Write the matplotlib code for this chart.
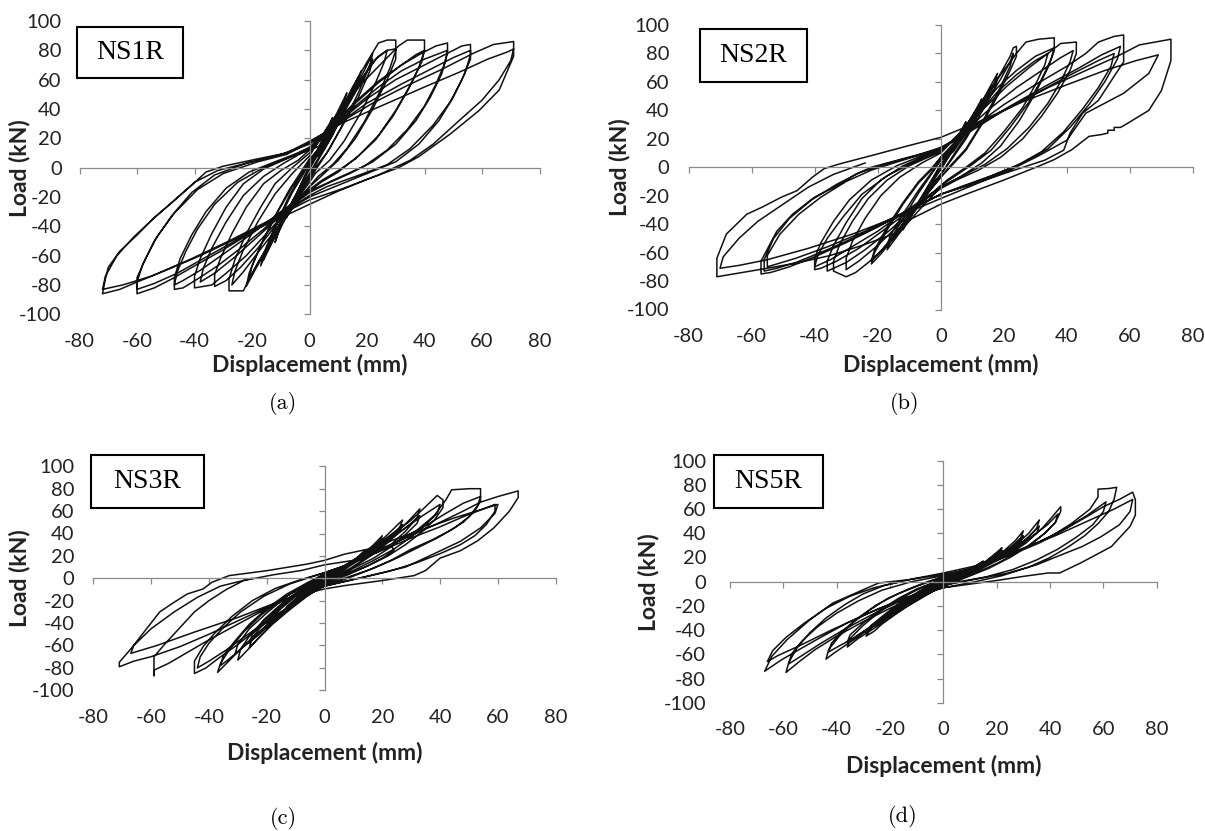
import matplotlib
matplotlib.use("Agg")
import matplotlib.pyplot as plt
from matplotlib.patches import Rectangle

plt.rcParams['font.family'] = ['Lato', 'DejaVu Sans']
plt.rcParams['axes.unicode_minus'] = False

# ---------------- data ----------------
x_ticks = [-80, -60, -40, -20, 0, 20, 40, 60, 80]
y_ticks = [-100, -80, -60, -40, -20, 0, 20, 40, 60, 80, 100]
x_label = "Displacement (mm)"
y_label = "Load (kN)"
specimens = ["NS1R", "NS2R", "NS3R", "NS5R"]
captions = ["(a)", "(b)", "(c)", "(d)"]

# traced load path (displacement mm, load kN), cycle by cycle
ns1r_path = [
    (0,0),(3,13),(6,26),(8,34),(7,29),(4,16),(1,3),(-2,-7),(-5,-20),(-8,-34),(-7,-29),(-4,-16),(-1,-3),(0,2),
    (3,12),(7,27),(10,39),(13,51),(12,45),(8,29),(4,13),(0,-1),(-3,-12),(-7,-27),(-10,-40),(-12,-51),(-11,-45),(-7,-29),(-3,-12),(0,1),
    (3,9),(7,22),(11,38),(15,53),(18,66),(17,60),(13,42),(8,22),(3,5),(0,-5),(-4,-17),(-8,-32),(-12,-47),(-15,-58),(-17,-67),(-16,-59),(-12,-40),(-7,-19),(-3,-5),(0,4),
    (3,8),(7,21),(11,36),(14,50),(17,62),(16,55),(12,38),(7,19),(2,3),(0,-4),(-4,-16),(-8,-30),(-11,-43),(-14,-55),(-16,-63),(-15,-55),(-11,-37),(-6,-17),(-2,-4),(0,4),
    (5,17),(10,33),(15,51),(19,66),(22,78),(21,70),(17,51),(12,31),(7,13),(3,1),(0,-8),(-5,-22),(-10,-39),(-15,-56),(-19,-70),(-22,-81),(-21,-72),(-17,-53),(-12,-33),(-7,-15),(-3,-3),(0,6),
    (5,16),(10,31),(15,48),(19,62),(22,74),(21,66),(17,48),(11,27),(6,10),(2,0),(0,-7),(-5,-21),(-10,-37),(-14,-52),(-18,-65),(-21,-76),(-20,-67),(-16,-49),(-11,-30),(-6,-13),(-2,-2),(0,5),
    (5,18),(10,36),(15,55),(20,72),(24,85),(27,87),(30,87),(30,80),(28,68),(24,50),(19,31),(13,13),(8,2),(3,-6),(0,-13),(-6,-28),(-12,-45),(-17,-62),(-21,-76),(-23,-84),(-28,-84),(-28,-76),(-26,-63),(-22,-45),(-17,-27),(-12,-11),(-6,0),(0,10),
    (6,24),(12,42),(18,60),(23,74),(27,80),(30,81),(30,74),(27,60),(22,40),(16,20),(10,5),(4,-6),(0,-13),(-6,-26),(-12,-40),(-18,-55),(-24,-68),(-29,-77),(-33,-81),(-33,-73),(-31,-62),(-27,-45),(-22,-27),(-16,-11),(-10,-2),(-4,5),(0,12),
    (5,16),(10,33),(15,51),(20,66),(24,76),(27,80),(26,72),(23,58),(18,38),(12,18),(7,5),(2,-4),(0,-10),(-6,-26),(-12,-43),(-18,-58),(-23,-71),(-27,-80),(-26,-71),(-23,-56),(-18,-37),(-12,-18),(-6,-4),(0,8),
    (6,27),(12,43),(18,57),(25,71),(31,83),(34,87),(40,87),(40,80),(38,68),(34,52),(29,35),(23,19),(16,6),(10,-2),(4,-9),(0,-15),(-8,-30),(-15,-45),(-22,-60),(-29,-72),(-34,-80),(-40,-82),(-40,-74),(-38,-62),(-34,-45),(-29,-27),(-23,-11),(-16,-1),(-8,6),(0,14),
    (8,28),(16,44),(24,58),(32,70),(37,77),(40,80),(39,72),(35,56),(30,39),(24,22),(17,8),(10,-3),(4,-10),(0,-16),(-9,-31),(-18,-47),(-26,-61),(-33,-72),(-38,-78),(-37,-69),(-34,-55),(-29,-37),(-23,-19),(-16,-6),(-9,3),(0,13),
    (8,29),(16,45),(24,59),(32,70),(39,78),(44,83),(48,85),(48,78),(46,64),(42,48),(37,32),(30,16),(22,4),(14,-4),(6,-11),(0,-17),(-8,-28),(-16,-42),(-24,-55),(-32,-67),(-39,-76),(-44,-82),(-47,-83),(-47,-75),(-45,-62),(-41,-46),(-36,-30),(-29,-14),(-21,-3),(-12,4),(0,13),
    (8,27),(16,42),(24,55),(32,66),(40,74),(48,80),(47,71),(44,57),(40,42),(34,26),(27,12),(19,1),(10,-7),(0,-16),(-10,-30),(-20,-45),(-30,-59),(-38,-70),(-44,-77),(-47,-80),(-46,-71),(-43,-57),(-39,-42),(-33,-25),(-25,-10),(-16,0),(-7,7),(0,12),
    (10,31),(20,47),(30,60),(40,70),(48,78),(53,83),(56,84),(56,77),(54,64),(50,48),(45,32),(38,16),(30,4),(20,-4),(10,-12),(0,-20),(-10,-32),(-20,-44),(-30,-56),(-40,-67),(-48,-76),(-54,-82),(-60,-86),(-60,-78),(-58,-66),(-54,-50),(-48,-33),(-41,-17),(-33,-5),(-22,3),(-10,9),(0,16),
    (10,30),(20,44),(32,57),(42,67),(50,75),(56,80),(56,74),(53,60),(49,45),(43,29),(35,13),(27,2),(16,-6),(6,-13),(0,-19),(-12,-34),(-24,-48),(-36,-61),(-46,-72),(-54,-79),(-60,-83),(-60,-75),(-57,-62),(-53,-47),(-47,-31),(-39,-15),(-30,-4),(-18,4),(-8,9),(0,17),
    (10,30),(22,44),(34,56),(46,67),(57,78),(64,84),(71,86),(71,76),(66,53),(59,39),(49,23),(38,7.5),(31,0),(20,-8),(10,-16),(0,-25),(-12,-36),(-25,-48),(-38,-60),(-50,-70),(-60,-78),(-66,-83),(-72,-86),(-71,-76),(-70,-68),(-66,-57),(-60,-46),(-54,-34),(-48,-24),(-41,-12),(-36,-3),(-30,1),(-18,6),(-8,10),(0,18),
    (12,31),(26,43),(40,55),(52,65),(62,74),(69,79),(71,81),(70,73),(66,60),(60,46),(52,32),(43,16),(35,5),(24,-5),(12,-14),(0,-22),(-14,-36),(-28,-50),(-42,-63),(-55,-74),(-65,-80),(-72,-83),(-71,-74),(-67,-60),(-61,-47),(-55,-36),(-48,-24),(-40,-10),(-32,-2),(-20,4),
]

ns2r_path = [
    (0,0),(3,12),(6,24),(8,32),(7,27),(4,14),(1,2),(-2,-8),(-5,-19),(-8,-30),(-7,-25),(-4,-13),(-1,-2),(0,2),
    (3,11),(7,25),(10,36),(13,48),(12,42),(8,27),(4,12),(0,-1),(-3,-11),(-7,-25),(-10,-36),(-12,-44),(-11,-38),(-7,-24),(-3,-10),(0,2),
    (4,12),(8,26),(12,41),(15,54),(18,66),(17,59),(13,42),(8,22),(3,5),(0,-5),(-4,-16),(-8,-30),(-12,-43),(-15,-52),(-17,-58),(-16,-51),(-12,-36),(-7,-18),(-3,-5),(0,5),
    (4,11),(8,24),(12,38),(15,50),(18,62),(17,55),(13,39),(8,20),(3,4),(0,-5),(-4,-15),(-8,-28),(-12,-40),(-15,-49),(-17,-55),(-16,-48),(-12,-33),(-7,-16),(-3,-4),(0,5),
    (5,17),(10,33),(15,51),(19,66),(22,78),(23,84),(24,85),(24,78),(22,68),(18,50),(13,30),(8,12),(3,0),(0,-7),(-5,-21),(-10,-36),(-15,-50),(-19,-61),(-22,-68),(-21,-60),(-17,-44),(-12,-26),(-7,-11),(-3,-2),(0,7),
    (5,16),(10,31),(15,48),(19,62),(22,74),(23,80),(22,71),(18,52),(13,31),(8,13),(3,1),(0,-7),(-5,-20),(-10,-34),(-15,-48),(-19,-59),(-22,-66),(-21,-58),(-17,-42),(-12,-25),(-7,-10),(-3,-1),(0,7),
    (5,19),(10,36),(15,53),(20,68),(24,80),(27,88),(31,90),(36,91),(36,82),(34,70),(30,52),(25,33),(19,15),(13,3),(6,-7),(0,-14),(-6,-28),(-12,-43),(-18,-57),(-23,-67),(-27,-74),(-30,-77),(-34,-73),(-34,-66),(-32,-54),(-28,-38),(-23,-22),(-17,-9),(-10,1),(-4,7),(0,11),
    (6,24),(12,40),(18,56),(24,68),(30,78),(36,84),(35,76),(32,62),(28,46),(22,28),(16,12),(10,2),(4,-7),(0,-13),(-8,-28),(-16,-44),(-24,-58),(-30,-67),(-36,-73),(-36,-66),(-34,-55),(-30,-39),(-25,-22),(-19,-9),(-12,1),(-5,8),(0,12),
    (6,22),(12,38),(18,53),(24,65),(30,75),(34,80),(33,72),(30,58),(26,42),(20,25),(14,10),(8,0),(2,-9),(0,-13),(-7,-27),(-14,-42),(-20,-55),(-26,-66),(-30,-72),(-30,-64),(-28,-52),(-24,-36),(-19,-20),(-13,-7),(-6,3),(0,10),
    (7,26),(14,42),(21,57),(28,70),(34,80),(38,87),(43,88),(43,80),(41,68),(37,52),(32,36),(26,20),(19,7),(12,-2),(5,-9),(0,-15),(-9,-29),(-18,-44),(-26,-57),(-33,-66),(-38,-71),(-40,-72),(-40,-64),(-38,-53),(-34,-38),(-29,-23),(-22,-9),(-14,1),(-6,8),(0,12),
    (8,26),(16,42),(24,56),(32,68),(38,77),(42,82),(41,74),(38,60),(34,45),(28,28),(21,13),(14,2),(6,-7),(0,-14),(-10,-29),(-20,-45),(-29,-57),(-35,-65),(-40,-70),(-39,-62),(-36,-50),(-31,-35),(-25,-19),(-17,-6),(-9,3),(0,12),
    (10,28),(20,44),(30,58),(40,71),(46,80),(50,88),(55,92),(58,93),(58,74),(55,64),(50,47),(45,38),(41,24),(39,12),(33,5),(22,-3),(10,-12),(0,-19),(-10,-30),(-20,-42),(-30,-53),(-40,-63),(-48,-70),(-54,-74),(-57,-75),(-57,-66),(-52,-45),(-47,-33),(-40,-21),(-32,-12),(-27,-5),(-22,0),(-12,6),(0,13),
    (10,27),(22,43),(34,58),(44,70),(51,79),(57,85),(56,76),(52,60),(47,44),(41,28),(34,13),(26,3),(16,-6),(6,-14),(0,-19),(-12,-33),(-24,-46),(-36,-58),(-46,-67),(-52,-71),(-56,-73),(-56,-65),(-53,-50),(-48,-36),(-41,-23),(-33,-12),(-26,-4),(-18,2),(-8,8),(0,14),
    (10,26),(20,40),(32,54),(42,66),(50,75),(55,80),(54,71),(50,56),(45,41),(39,25),(32,11),(24,1),(14,-8),(4,-16),(0,-19),(-12,-32),(-24,-45),(-36,-56),(-46,-64),(-52,-68),(-55,-70),(-55,-62),(-51,-47),(-45,-33),(-38,-21),(-30,-10),(-22,-2),(-12,5),(0,13),
    (10,28),(22,42),(34,56),(46,68),(56,78),(63,86),(73,90),(73,75),(70,54),(66,40),(58.6,30),(57,28),(55,28),(55,26),(53,26),(53,24),(51,23),(47,21.7),(41.6,12.4),(36,5.4),(31,0.7),(20,-9),(8,-19),(0,-26),(-10,-37),(-15,-47),(-25,-55),(-35,-62),(-45,-67),(-55,-71),(-63,-74),(-71,-77),(-71,-64),(-68,-47),(-61.5,-33),(-56.6,-28),(-50.5,-21),(-45.6,-16.5),(-40.7,-7),(-37,-1),(-32,2.4),(-22,8.2),(-10,15.3),(0,21),
    (12,32),(26,46),(40,58),(52,68),(62,75),(69,79),(66,66),(58,52),(46,38),(40,19),(31,8),(22,-2),(12,-11),(0,-22),(-14,-35),(-28,-47),(-42,-57),(-55,-65),(-64,-69),(-70,-71),(-69,-63),(-64,-50),(-58,-38),(-50,-26),(-42,-14),(-34,-5),(-24,3),
]

ns3r_path = [
    (0,0),(3,4),(6,9),(8,12),(7,10),(4,5),(1,0),(-2,-4),(-5,-9),(-8,-14),(-7,-11),(-4,-6),(-1,-1),(0,1),
    (3,5),(7,11),(11,18),(14,25),(13,21),(9,13),(4,5),(0,-2),(-4,-8),(-8,-16),(-11,-23),(-14,-30),(-13,-25),(-9,-16),(-4,-7),(0,1),
    (4,6),(9,14),(14,23),(17,30),(20,38),(19,33),(15,24),(10,14),(4,4),(0,-3),(-5,-11),(-10,-21),(-14,-31),(-17,-38),(-20,-45),(-19,-38),(-15,-27),(-9,-14),(-4,-5),(0,2),
    (4,6),(9,13),(14,21),(17,28),(20,35),(19,30),(15,22),(10,13),(4,3),(0,-3),(-5,-10),(-10,-19),(-14,-29),(-17,-35),(-20,-42),(-19,-36),(-15,-25),(-9,-13),(-4,-4),(0,2),
    (5,8),(10,16),(16,26),(21,37),(25,47),(27,52),(26,45),(22,34),(16,21),(9,9),(3,1),(0,-4),(-6,-14),(-12,-26),(-17,-38),(-22,-51),(-26,-62),(-25,-53),(-21,-40),(-15,-25),(-8,-11),(-3,-2),(0,3),
    (5,8),(10,15),(16,25),(21,35),(25,43),(27,48),(26,42),(22,32),(16,20),(9,8),(3,0),(0,-4),(-6,-13),(-12,-24),(-17,-35),(-22,-47),(-26,-58),(-25,-50),(-21,-37),(-15,-23),(-8,-10),(-3,-2),(0,3),
    (6,9),(12,18),(18,28),(24,39),(29,51),(33,62),(32,54),(28,42),(23,30),(24,25),(20,18),(14,10),(8,3),(3,-2),(0,-6),(-6,-16),(-12,-28),(-18,-41),(-23,-54),(-27,-65),(-30,-73),(-29,-63),(-25,-48),(-19,-33),(-12,-17),(-6,-6),(0,3),
    (6,9),(12,17),(18,27),(24,37),(29,47),(33,56),(32,49),(28,39),(23,28),(17,18),(10,9),(4,1),(0,-5),(-6,-15),(-12,-27),(-18,-39),(-23,-51),(-28,-61),(-31,-68),(-30,-59),(-26,-45),(-20,-31),(-13,-16),(-6,-5),(0,3),
    (6,10),(12,19),(18,29),(24,40),(30,52),(35,64),(39,74),(41,70),(41,63),(38,52),(34,42),(28,30),(22,20),(15,11),(8,4),(3,0),(0,-6),(-7,-17),(-14,-30),(-21,-44),(-27,-58),(-32,-71),(-37,-84),(-36,-76),(-33,-64),(-28,-48),(-22,-33),(-15,-19),(-8,-8),(-3,-1),(0,4),
    (7,11),(14,21),(21,33),(28,45),(34,56),(40,66),(39,58),(35,48),(30,37),(24,26),(17,16),(10,7),(3,0),(0,-5),(-8,-18),(-15,-32),(-22,-47),(-28,-61),(-33,-72),(-36,-78),(-35,-69),(-31,-56),(-26,-41),(-20,-27),(-13,-14),(-6,-4),(0,4),
    (8,12),(16,21),(24,31),(32,43),(38,56),(42,70),(44,79),(50,80),(54,80),(54,69),(52,60),(48,50),(43,42),(37,34),(30,26),(23,16),(15,7),(7,-1),(0,-7),(-8,-18),(-16,-32),(-24,-47),(-31,-61),(-37,-72),(-41,-80),(-45,-85),(-45,-74),(-42,-61),(-38,-49),(-32,-34),(-25,-20),(-17,-9),(-8,-1),(0,5),
    (9,13),(18,23),(27,35),(35,47),(42,58),(48,67),(54,73),(53,65),(50,55),(45,45),(39,36),(32,27),(25,18),(17,9),(8,1),(0,-6),(-9,-20),(-18,-35),(-27,-51),(-34,-64),(-40,-74),(-44,-80),(-43,-70),(-40,-58),(-35,-44),(-29,-30),(-21,-16),(-12,-5),(0,5),
    (10,14),(20,25),(30,36),(40,46),(48,55),(54,61),(59,66),(59,60),(56,48),(52,38),(47,30),(40,22),(32,14),(22,6),(12,0),(0,-7),(-10,-15),(-20,-27),(-30,-41),(-40,-55),(-48,-67),(-54,-76),(-59,-82),(-59,-87),(-59,-78),(-59,-70),(-55,-58),(-50,-44),(-45,-30),(-40,-20),(-34,-10),(-28,-2),(-18,3),(-8,7),(0,12),
    (10,16),(20,27),(30,38),(40,50),(48,60),(54,68),(60,73),(67,78),(67,72),(64,60),(58.6,45),(53,33.5),(47,24.6),(40,18),(35,7),(31,2.4),(20,-2),(7,-6.5),(0,-9.5),(-12,-17),(-20,-26),(-30,-38),(-40,-50),(-50,-61),(-60,-70),(-66,-74),(-71,-79),(-71,-75),(-67,-63),(-62,-46.5),(-57,-30),(-53,-23),(-47.5,-14),(-42,-9.5),(-39,-3.6),(-33,2.4),(-20,6.8),(-6,12.7),(0,16),(7,21.6),
    (15,26),(30,40),(45,54),(55,62),(60,66),(59,58),(54,45),(47,33),(38,22),(28,10),(15,2),(0,-7),(-15,-20),(-30,-35),(-45,-48),(-58,-60),(-67,-67),(-66,-60),(-60,-45),(-52,-30),(-44,-17),(-36,-7),(-25,0),
]

ns5r_path = [
    (0,0),(3,3),(6,6),(8,8),(6,6),(3,2),(0,-1),(-3,-3),(-6,-6),(-8,-9),(-6,-6),(-3,-2),(0,1),
    (4,4),(8,8),(12,13),(15,17),(13,14),(9,8),(4,3),(0,-1),(-4,-5),(-8,-10),(-12,-15),(-15,-20),(-13,-16),(-9,-10),(-4,-4),(0,1),
    (5,4),(10,9),(15,15),(19,22),(22,28),(20,24),(16,17),(10,9),(5,3),(0,-2),(-5,-7),(-10,-14),(-15,-21),(-19,-27),(-22,-33),(-20,-27),(-16,-19),(-10,-11),(-5,-4),(0,2),
    (5,4),(10,8),(15,14),(19,20),(22,26),(20,22),(16,16),(10,8),(5,3),(0,-2),(-5,-7),(-10,-13),(-15,-19),(-19,-25),(-22,-30),(-20,-25),(-16,-18),(-10,-10),(-5,-4),(0,2),
    (6,5),(12,11),(18,18),(23,26),(27,34),(30,42),(29,36),(25,28),(19,19),(12,10),(6,3),(0,-3),(-6,-10),(-12,-18),(-18,-27),(-23,-35),(-26,-41),(-29,-45),(-27,-38),(-22,-28),(-16,-18),(-9,-8),(-4,-2),(0,3),
    (6,5),(12,10),(18,17),(23,24),(27,31),(30,38),(29,33),(25,26),(19,18),(12,9),(6,3),(0,-3),(-6,-9),(-12,-17),(-18,-25),(-23,-33),(-27,-38),(-29,-42),(-27,-36),(-22,-27),(-16,-17),(-9,-8),(-4,-2),(0,3),
    (7,6),(14,13),(21,21),(27,30),(32,40),(36,51),(35,44),(31,35),(25,25),(18,16),(11,8),(5,2),(0,-3),(-7,-12),(-14,-21),(-21,-31),(-27,-40),(-32,-47),(-36,-54),(-35,-47),(-30,-36),(-24,-25),(-17,-15),(-10,-7),(-4,-1),(0,3),
    (7,6),(14,12),(21,20),(27,28),(32,37),(36,46),(35,40),(31,32),(25,23),(18,15),(11,7),(5,2),(0,-3),(-7,-11),(-14,-20),(-21,-29),(-27,-37),(-32,-44),(-36,-50),(-35,-44),(-30,-34),(-24,-24),(-17,-14),(-10,-6),(-4,-1),(0,3),
    (8,8),(16,15),(24,23),(31,33),(37,44),(41,54),(44,62),(44,58),(42,49),(38,40),(33,31),(27,23),(20,15),(12,7),(5,1),(0,-4),(-8,-12),(-16,-22),(-24,-33),(-31,-44),(-37,-53),(-41,-59),(-44,-64),(-43,-56),(-39,-45),(-34,-34),(-28,-24),(-21,-14),(-13,-6),(-6,0),(0,4),
    (9,9),(18,17),(26,26),(33,37),(39,47),(43,56),(42,49),(38,40),(32,30),(25,20),(17,11),(9,4),(0,-4),(-9,-13),(-18,-24),(-26,-35),(-33,-46),(-39,-53),(-43,-58),(-42,-51),(-38,-41),(-32,-30),(-25,-19),(-17,-10),(-9,-3),(0,4),
    (10,10),(20,18),(30,27),(40,37),(48,48),(55,60),(58,70),(58,76.5),(62,77),(65,78),(64,68),(62,58),(58,48),(53,38),(47,29),(40,20),(32,12),(22,5),(12,0),(0,-5),(-10,-12),(-20,-22),(-30,-33),(-40,-45),(-48,-56),(-54,-66),(-59,-75),(-58,-67),(-55,-55),(-50,-42),(-44,-30),(-37,-19),(-30,-10),(-22,-3),(-12,2),(0,6),
    (12,11),(24,21),(36,32),(46,44),(54,55),(61,66),(60,58),(56,47),(50,37),(43,27),(35,18),(26,10),(16,4),(6,0),(0,-3),(-12,-12),(-24,-24),(-36,-38),(-46,-51),(-53,-61),(-58,-68),(-57,-60),(-53,-49),(-47,-37),(-40,-26),(-32,-16),(-23,-7),(-12,0),(0,5),
    (12,12),(24,22),(36,33),(46,44),(54,54),(60,62),(66,68),(71,74),(72,67.7),(72,55),(70,45.7),(63,29),(51.4,15.4),(43.6,7.2),(39.3,7.2),(30,4.4),(20,1),(10,-2),(0,-5),(-12,-12),(-24,-22),(-36,-34),(-46,-46),(-54,-56),(-61,-65),(-67,-74),(-64.3,-61.6),(-58.6,-47.9),(-50,-31.4),(-41.4,-17.6),(-32.9,-9.4),(-24.3,-1.1),(-18.6,0.3),(-12.9,1.7),(0,7.2),
    (14,14),(28,26),(42,38),(54,50),(64,60),(71,68),(70,58),(66,47),(59,37),(52,29),(44,22),(35,14),(24,7),(12,2),(0,-3),(-14,-13),(-28,-26),(-42,-40),(-54,-53),(-62,-61),(-66,-66),(-64,-57),(-59,-46),(-52,-34),(-44,-22),(-35,-12),(-26,-5),(-16,0),
]

paths = [ns1r_path, ns2r_path, ns3r_path, ns5r_path]

# ---------------- layout (pixels) ----------------
W, H = 1205, 831
fig = plt.figure(figsize=(W / 100, H / 100), dpi=100)
GRAY = '#8a8a8a'

# axes rect (left, right, top, bottom) in pixels
axes_px = [(79.5, 539.5, 21, 314.3), (688.5, 1193, 25, 309.5),
           (93.3, 555.7, 466.3, 690.3), (730, 1156.7, 460.7, 702.7)]
ypad_px = [17.8, 19, 18.7, 24]
xlab_y_px = [365, 365, 753, 766]
ylab_x_px = [19.2, 619.3, 19.2, 648.2]
box_px = [(76.5, 26.7, 183, 78.3), (699.5, 29.3, 807.2, 81.7),
          (90.7, 455, 203.6, 507.7), (713.8, 455, 822.6, 507.7)]
cap_px = [(283, 403), (905, 403), (283, 818), (903, 816)]

for i in range(4):
    l, r, t, b = axes_px[i]
    w, h = r - l, b - t
    ax = fig.add_axes([l / W, 1 - b / H, w / W, h / H])
    ax.patch.set_alpha(0)
    ax.set_xlim(x_ticks[0], x_ticks[-1])
    ax.set_ylim(y_ticks[0], y_ticks[-1])
    for s in ['top', 'right']:
        ax.spines[s].set_visible(False)
    ax.spines['left'].set_position(('data', 0))
    ax.spines['bottom'].set_position(('data', 0))
    for s in ['left', 'bottom']:
        ax.spines[s].set_color(GRAY)
        ax.spines[s].set_linewidth(0.9)
    ax.set_xticks(x_ticks)
    ax.set_yticks(y_ticks)
    ax.tick_params(direction='out', length=4, width=0.9, color=GRAY,
                   labelleft=False, labelbottom=False)

    d = [p[0] for p in paths[i]]
    f = [p[1] for p in paths[i]]
    ax.plot(d, f, color='#111111', lw=1.1, solid_joinstyle='round')

    sx = ax.secondary_xaxis('bottom')
    sx.set_xticks(x_ticks)
    sx.spines['bottom'].set_visible(False)
    sx.tick_params(length=0, pad=13.5, labelsize=14.5, labelcolor='#222222')
    sy = ax.secondary_yaxis('left')
    sy.set_yticks(y_ticks)
    sy.spines['left'].set_visible(False)
    sy.tick_params(length=0, pad=ypad_px[i] * 0.72, labelsize=14.5, labelcolor='#222222')

    ax.set_xlabel(x_label, fontweight='bold', fontsize=16.5, va='center', color='#222222')
    ax.xaxis.set_label_coords(0.5, -(xlab_y_px[i] - b) / h)
    ax.set_ylabel(y_label, fontweight='bold', fontsize=16.5, va='center', color='#222222')
    ax.yaxis.set_label_coords((ylab_x_px[i] - l) / w, 0.5)

    x0, y0, x1, y1 = box_px[i]
    fig.add_artist(Rectangle((x0 / W, 1 - y1 / H), (x1 - x0) / W, (y1 - y0) / H,
                             transform=fig.transFigure, facecolor='white',
                             edgecolor='black', lw=1.5))
    fig.text((x0 + x1) / 2 / W, 1 - (y0 + y1) / 2 / H, specimens[i],
             ha='center', va='center', family='Liberation Serif', fontsize=20)

    cx, cy = cap_px[i]
    fig.text(cx / W, 1 - cy / H, captions[i], ha='center', va='center',
             family='cmr10', fontsize=16)

fig.savefig('out.png', dpi=100, facecolor='white')
